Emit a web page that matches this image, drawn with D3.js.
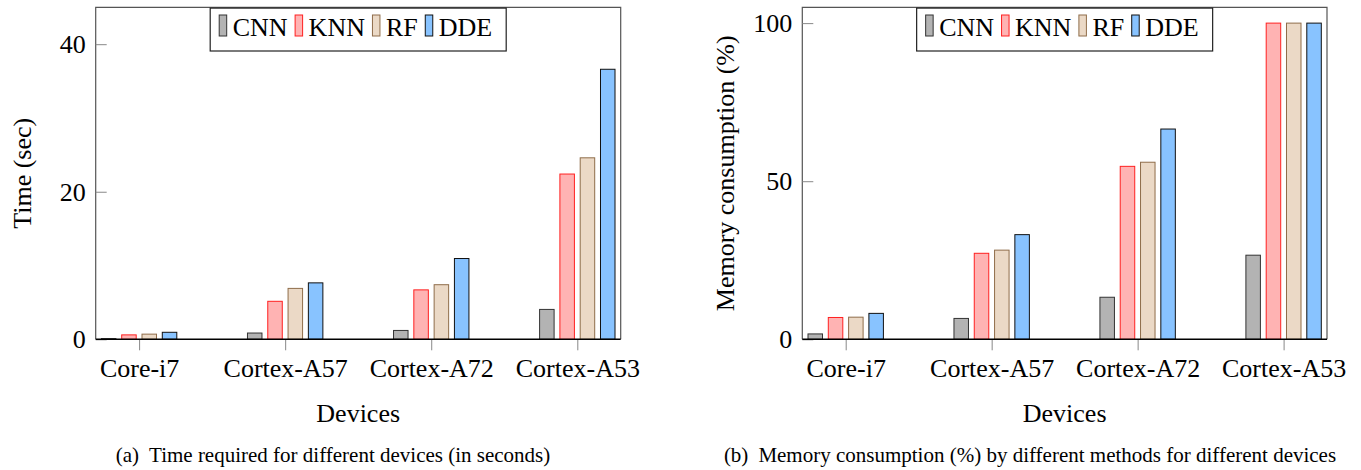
<!DOCTYPE html>
<html>
<head>
<meta charset="utf-8">
<script src="https://cdn.jsdelivr.net/npm/d3@7"></script>
<style>
  html, body { margin: 0; padding: 0; background: #fff; }
  svg { display: block; }
  text { font-family: "Liberation Serif", "Times New Roman", serif; fill: #000; }
</style>
</head>
<body>
<svg id="chart" width="1361" height="470"></svg>
<script>
// ---- Data ----
const categories = ["Core-i7", "Cortex-A57", "Cortex-A72", "Cortex-A53"];
const series = ["CNN", "KNN", "RF", "DDE"];

const timeCNN = [0.1, 0.85, 1.2, 4.05];
const timeKNN = [0.6, 5.15, 6.7, 22.4];
const timeRF  = [0.7, 6.9, 7.4, 24.6];
const timeDDE = [0.95, 7.65, 10.95, 36.6];

const memCNN = [1.7, 6.6, 13.3, 26.6];
const memKNN = [6.9, 27.2, 54.7, 100];
const memRF  = [7.0, 28.2, 56.0, 100];
const memDDE = [8.2, 33.1, 66.5, 100];

const timeTicks = [0, 20, 40];
const memTicks = [0, 50, 100];

// ---- Styles ----
const fills   = { CNN: "#b3b3b3", KNN: "#ffb3b3", RF: "#ebd9c6", DDE: "#88c3ff" };
const strokes = { CNN: "#333333", KNN: "#ff2020", RF: "#8f6d4a", DDE: "#111111" };

const svg = d3.select("#chart");

function drawPanel(opt) {
  const { left, right, top, bottom, yMax, ticks, values, yLabel, yLabelX, caption, captionX } = opt;
  const g = svg.append("g");

  const y = d3.scaleLinear().domain([0, yMax]).range([bottom, top]);
  const off = 43.4;
  const x0 = d3.scalePoint().domain(categories).range([left + off, right - off]);
  const x1 = d3.scaleBand().domain(series).range([-40.6, 40.6]).paddingInner(0.236).paddingOuter(0.118);

  // frame (top, left, right)
  g.append("path")
    .attr("d", `M${left},${bottom}V${top}H${right}V${bottom}`)
    .attr("fill", "none").attr("stroke", "#555").attr("stroke-width", 1.2);

  // bars
  categories.forEach((c, i) => {
    series.forEach(s => {
      const v = values[s][i];
      g.append("rect")
        .attr("x", x0(c) + x1(s) + 0.5)
        .attr("width", x1.bandwidth() - 1)
        .attr("y", y(v))
        .attr("height", y(0) - y(v))
        .attr("fill", fills[s])
        .attr("stroke", strokes[s])
        .attr("stroke-width", 1);
    });
  });

  // y axis
  const ya = g.append("g").attr("transform", `translate(${left},0)`)
    .call(d3.axisLeft(y).tickValues(ticks).tickSize(-11).tickPadding(10).tickFormat(d3.format("d")));
  ya.select(".domain").remove();
  ya.selectAll("line").attr("stroke", "#888");
  ya.selectAll("text").style("font-size", "26px").style("font-family", "'Liberation Serif', serif");

  // x axis
  const xa = g.append("g").attr("transform", `translate(0,${bottom})`)
    .call(d3.axisBottom(x0).tickSize(11));
  xa.select(".domain").remove();
  xa.selectAll("line").attr("stroke", "#888");
  xa.selectAll("text").attr("y", 38).attr("dy", null)
    .style("font-size", "26px").style("font-family", "'Liberation Serif', serif");

  // bottom axis line
  g.append("line").attr("x1", left).attr("x2", right).attr("y1", bottom).attr("y2", bottom)
    .attr("stroke", "#000").attr("stroke-width", 1.4);

  // y label
  g.append("text")
    .attr("transform", `translate(${yLabelX},${(top + bottom) / 2}) rotate(-90)`)
    .attr("text-anchor", "middle").style("font-size", "26px").text(yLabel);

  // x label
  g.append("text").attr("x", (left + right) / 2).attr("y", 422)
    .attr("text-anchor", "middle").style("font-size", "26px").text("Devices");

  // caption
  const cap = g.append("text").attr("x", captionX).attr("y", 462)
    .attr("text-anchor", "middle").style("font-size", "21px");
  cap.append("tspan").text(caption[0]);
  cap.append("tspan").attr("dx", 10).text(caption[1]);

  // legend
  const lg = g.append("g");
  const box = lg.append("rect").attr("fill", "#fff").attr("stroke", "#222").attr("stroke-width", 1.2);
  let cx = 0;
  const items = [];
  series.forEach(s => {
    const it = lg.append("g");
    it.append("rect").attr("x", cx + 0.5).attr("y", 15).attr("width", 7.5).attr("height", 21)
      .attr("fill", fills[s]).attr("stroke", strokes[s]).attr("stroke-width", 1);
    const t = it.append("text").attr("x", cx + 14).attr("y", 36).style("font-size", "26px").text(s);
    const w = t.node().getComputedTextLength();
    cx += 14 + w + 7;
    items.push(it);
  });
  const contentW = cx - 7;
  const padL = 8.5, padR = 14;
  const boxW = contentW + padL + padR;
  const bx = (left + right) / 2 - boxW / 2;
  box.attr("x", bx).attr("y", top + 0.8).attr("width", boxW).attr("height", 51 - top - 0.8);
  items.forEach(it => it.attr("transform", `translate(${bx + padL},0)`));
}

drawPanel({
  left: 95.7, right: 620.7, top: 7.3, bottom: 339.3, yMax: 45, ticks: timeTicks,
  values: { CNN: timeCNN, KNN: timeKNN, RF: timeRF, DDE: timeDDE },
  yLabel: "Time (sec)", yLabelX: 31,
  caption: ["(a)", "Time required for different devices (in seconds)"], captionX: 333
});

drawPanel({
  left: 802.3, right: 1327, top: 7.3, bottom: 339.3, yMax: 105, ticks: memTicks,
  values: { CNN: memCNN, KNN: memKNN, RF: memRF, DDE: memDDE },
  yLabel: "Memory consumption (%)", yLabelX: 733.5,
  caption: ["(b)", "Memory consumption (%) by different methods for different devices"], captionX: 1030
});
</script>
</body>
</html>
